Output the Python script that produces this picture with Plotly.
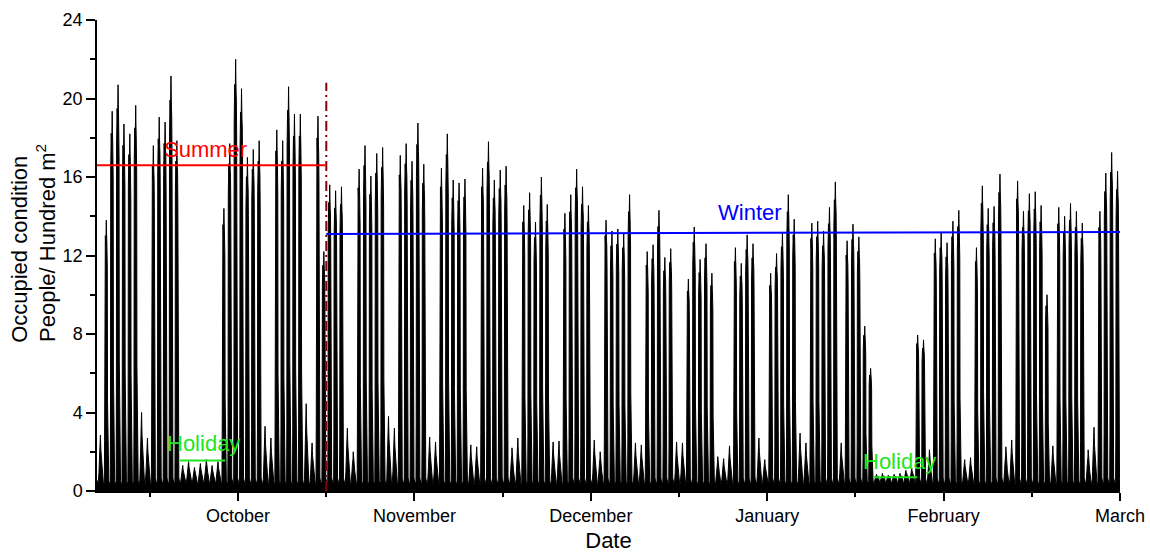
import plotly.graph_objects as go

# ---- data (x = day index counted from 2016-09-11; hourly occupancy) ----
FIRST_DAY = 6
daily_peak = [
    2.85,
    13.8, 19.35, 20.7, 18.7, 18.2, 19.65,
    4.0, 2.7,
    17.6, 19.05, 18.8, 21.15, 17.85,
    1.3, 1.5, 1.2, 1.4, 1.6, 1.3, 1.5,
    14.4, 17.7, 22.0, 20.5, 17.0, 17.4, 17.85,
    3.3, 2.7,
    18.4, 17.85, 20.6, 19.2, 19.2,
    4.45, 2.45,
    19.1, 12.2, 15.6, 15.3, 15.5,
    3.2, 2.0,
    16.4, 17.6, 16.05, 17.2, 17.5,
    3.8, 3.2,
    17.1, 17.7, 16.8, 18.75, 16.65,
    2.75, 2.5,
    16.45, 18.2, 15.85, 15.7, 15.9,
    2.35, 2.25,
    16.45, 17.8, 15.85, 16.35, 16.55,
    2.2, 2.7,
    14.55, 15.2, 13.7, 16.0, 14.6,
    2.5, 2.55,
    14.15, 15.1, 16.4, 15.5, 14.55,
    2.6, 2.0,
    13.8, 13.25, 13.35, 13.15, 15.1,
    2.45, 2.35,
    12.2, 12.55, 14.3, 11.9, 12.35,
    2.5, 2.45,
    10.8, 13.45, 11.8, 12.6, 11.1,
    1.75, 1.65, 2.3,
    12.4, 11.6, 13.05, 12.6,
    2.7, 1.6,
    11.1, 12.1, 13.2, 15.1, 13.85,
    2.95, 2.45,
    13.65, 13.75, 13.25, 14.45, 15.75,
    2.45,
    12.75, 13.6, 12.95, 8.4, 6.25,
    0.85, 0.9, 0.8, 0.85, 0.9, 1.05, 1.15,
    7.95, 7.7,
    2.1,
    12.85, 13.15, 12.65, 13.75, 14.3,
    1.6, 1.7,
    12.4, 15.55, 14.4, 14.5, 16.15,
    2.25, 2.6,
    15.8, 14.25, 15.15, 15.25, 14.55,
    10.0,
    2.3,
    14.45, 14.0, 14.65, 14.25, 13.65,
    2.1, 3.25,
    14.25, 16.2, 17.25, 16.3,
]
# typical hourly shape of a working day / rest day (fraction of the daily peak)
workday_shape = [0, 0, 0, 0, 0, 0, 0, 0.15, 0.85, 0.92, 0.94, 0.92,
                 0.9, 0.95, 1.0, 0.95, 0.92, 0.9, 0.82, 0.3, 0.15, 0.08, 0, 0]
restday_shape = [0, 0, 0, 0, 0, 0, 0, 0, 0.15, 0.3, 0.45, 0.55,
                 0.5, 0.75, 1.0, 0.8, 0.65, 0.55, 0.45, 0.35, 0.25, 0.15, 0.05, 0]
night_level = [0.55, 0.45, 0.4, 0.35, 0.35, 0.4, 0.5, 0.6, 0.6, 0.6, 0.6, 0.6,
               0.6, 0.6, 0.6, 0.6, 0.6, 0.6, 0.6, 0.65, 0.7, 0.75, 0.7, 0.6]

summer_mean = [16.6, 16.6]
winter_mean = [13.1, 13.2]
season_split = 45
split_line_top = 20.8

month_ticks = [30, 60, 90, 120, 150, 180]
month_labels = ["October", "November", "December", "January", "February", "March"]
minor_ticks = [15, 45, 75, 105, 135, 165]

holiday1 = [20.1, 27.8]
holiday2 = [138.0, 145.5]

# ---- build hourly series ----
xs, ys = [], []
for i, p in enumerate(daily_peak):
    d = FIRST_DAY + i
    shape = workday_shape if p > 5 else restday_shape
    for h in range(24):
        base = night_level[h]
        xs.append(d + h / 24)
        ys.append(base + shape[h] * (p - base))
xs.append(FIRST_DAY + len(daily_peak))
ys.append(night_level[0])

FONT = 'Arial, "Liberation Sans", sans-serif'

fig = go.Figure()
fig.add_trace(go.Scatter(x=xs, y=ys, mode="lines", line=dict(color="black", width=1),
                         fill="tozeroy", fillcolor="black", hoverinfo="skip"))
fig.add_trace(go.Scatter(x=[FIRST_DAY, season_split - 0.2], y=summer_mean, mode="lines",
                         line=dict(color="#FF0000", width=2)))
fig.add_trace(go.Scatter(x=[season_split, 180], y=winter_mean, mode="lines",
                         line=dict(color="#0000FF", width=2)))
fig.add_trace(go.Scatter(x=[season_split, season_split], y=[0, split_line_top], mode="lines",
                         line=dict(color="#8B0000", width=2, dash="10px,4px,2px,4px")))
fig.add_trace(go.Scatter(x=holiday1, y=[1.55, 1.55], mode="lines",
                         line=dict(color="#1EE61E", width=2)))
fig.add_trace(go.Scatter(x=holiday2, y=[0.7, 0.7], mode="lines",
                         line=dict(color="#1EE61E", width=2)))

fig.add_annotation(x=24.4, y=17.4, text="Summer", showarrow=False,
                   font=dict(color="#FF0000", size=22, family=FONT))
fig.add_annotation(x=117, y=14.2, text="Winter", showarrow=False,
                   font=dict(color="#0000FF", size=22, family=FONT))
fig.add_annotation(x=24.05, y=2.4, text="Holiday", showarrow=False,
                   font=dict(color="#1EE61E", size=22, family=FONT))
fig.add_annotation(x=142.5, y=1.5, text="Holiday", showarrow=False,
                   font=dict(color="#1EE61E", size=22, family=FONT))
# y-axis title (two lines)
fig.add_annotation(xref="paper", yref="paper", x=-0.0753, y=0.514, text="Occupied condition",
                   textangle=-90, showarrow=False, xanchor="center", yanchor="middle",
                   font=dict(size=22, family=FONT, color="black"))
fig.add_annotation(xref="paper", yref="paper", x=-0.0499, y=0.5265,
                   text="People/ Hundred m<sup>2</sup>",
                   textangle=-90, showarrow=False, xanchor="center", yanchor="middle",
                   font=dict(size=22, family=FONT, color="black"))

fig.update_layout(
    width=1150, height=553,
    margin=dict(l=97, r=30, t=20, b=62),
    plot_bgcolor="white", paper_bgcolor="white",
    showlegend=False,
    font=dict(family=FONT, size=18, color="black"),
)
fig.update_xaxes(
    range=[FIRST_DAY, 180], tickmode="array", tickvals=month_ticks, ticktext=month_labels,
    ticks="outside", ticklen=8, tickwidth=1.5, tickcolor="black",
    showline=True, linecolor="black", linewidth=1.5, showgrid=False, zeroline=False,
    minor=dict(tickvals=minor_ticks, ticks="outside", ticklen=4, tickwidth=1.5, tickcolor="black"),
    title=dict(text="Date", font=dict(size=22, family=FONT), standoff=11),
    automargin=False,
)
fig.update_yaxes(
    range=[0, 24], tickmode="linear", tick0=0, dtick=4,
    ticks="outside", ticklen=9, tickwidth=1.5, tickcolor="black",
    showline=True, linecolor="black", linewidth=1.5, showgrid=False, zeroline=False,
    minor=dict(dtick=2, ticks="outside", ticklen=5, tickwidth=1.5, tickcolor="black"),
    automargin=False,
)

fig.write_html("out.html")
